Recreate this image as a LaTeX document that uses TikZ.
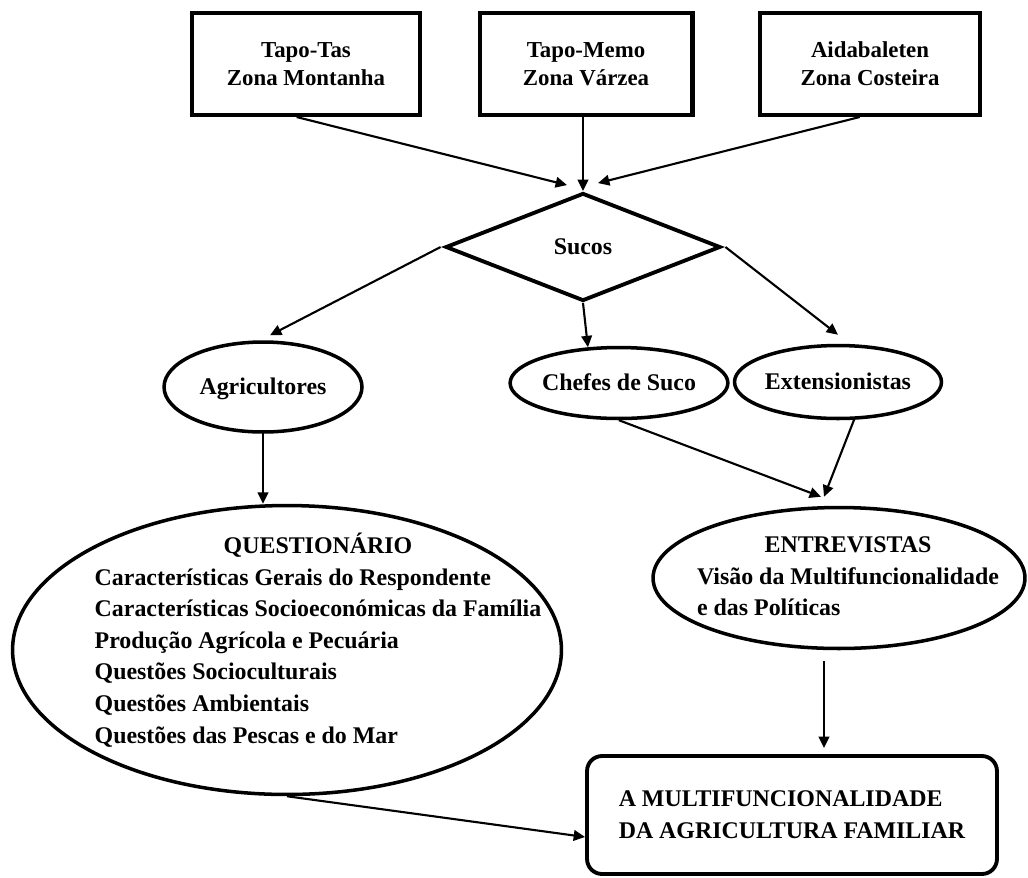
\documentclass[tikz,border=0pt]{standalone}
\usepackage{fontspec}
\setmainfont{Liberation Serif}
\usetikzlibrary{shapes.geometric,arrows.meta}

\begin{document}
\begin{tikzpicture}[x=0.02cm, y=-0.02cm,
  every node/.style={font=\fontsize{13.6}{18}\selectfont\bfseries},
  zonebox/.style={draw, line width=2.3pt, align=center, minimum height=2.04cm,
    font=\fontsize{13}{16}\selectfont\bfseries},
  grupo/.style={draw, ellipse, line width=2pt, inner sep=0pt},
  arr/.style={-{Triangle[length=6.5pt,width=6pt]}, line width=1.2pt}]

  \useasboundingbox (0,0) rectangle (1028,877);

  % zonas
  \node[zonebox, minimum width=4.56cm] (tas) at (306,64) {Tapo-Tas\\Zona Montanha};
  \node[zonebox, minimum width=4.26cm] (memo) at (586,64) {Tapo-Memo\\Zona Várzea};
  \node[zonebox, minimum width=4.4cm] (aida) at (870,64) {Aidabaleten\\Zona Costeira};

  \node[draw, diamond, line width=2.2pt, minimum width=5.5cm, minimum height=2.16cm,
    inner sep=0pt] (sucos) at (583,247) {Sucos};

  % grupos
  \node[grupo, text height=10pt, text depth=1pt, minimum width=3.96cm, minimum height=1.8cm] (agri) at (263,387) {Agricultores};
  \node[grupo, text height=10pt, text depth=1pt, minimum width=4.24cm, minimum height=1.42cm] (chefes) at (619,383) {Chefes de Suco};
  \node[grupo, text height=10pt, text depth=1pt, minimum width=4.14cm, minimum height=1.46cm] (ext) at (838,382) {Extensionistas};

  % instrumentos
  \node[grupo, minimum width=10.98cm, minimum height=5.78cm] (quest) at (287,650) {};
  \node (questtexto) at (318,642) {\begin{tabular}{@{}l@{}}
    \multicolumn{1}{@{}c@{}}{QUESTIONÁRIO}\\
    Características Gerais do Respondente\\
    Características Socioeconómicas da Família\\
    Produção Agrícola e Pecuária\\
    Questões Socioculturais\\
    Questões Ambientais\\
    Questões das Pescas e do Mar
  \end{tabular}};
  \node[grupo, minimum width=7.44cm, minimum height=2.82cm] (entrev) at (839,578) {};
  \node (entrevtexto) at (848,578) {\begin{tabular}{@{}l@{}}
    \multicolumn{1}{@{}c@{}}{ENTREVISTAS}\\
    Visão da Multifuncionalidade\\
    e das Políticas
  \end{tabular}};

  \node[draw, rounded corners=0.3cm, line width=2.2pt, minimum width=8.2cm, minimum height=2.36cm,
    align=left] (final) at (792,815) {A MULTIFUNCIONALIDADE\\DA AGRICULTURA FAMILIAR};

  \draw[arr] (tas.260) -- ([xshift=-0.32cm, yshift=0.12cm]sucos.north);
  \draw[arr] (sucos.north |- memo.south) -- (sucos.north);
  \draw[arr] (aida.259) -- ([xshift=0.3cm, yshift=0.16cm]sucos.north);
  \draw[arr] ([xshift=-0.06cm]sucos.west) -- ([xshift=0.14cm, yshift=0.1cm]agri.north);
  \draw[arr] (sucos.south) -- (chefes.131);
  \draw[arr] ([xshift=0.06cm]sucos.east) -- ([yshift=0.18cm]ext.north);
  \draw[arr] (agri.south) -- (agri.south |- quest.north);
  \draw[arr] (chefes.south) -- ([xshift=-0.36cm, yshift=0.18cm]entrev.north);
  \draw[arr] (ext.293) -- ([xshift=-0.3cm, yshift=0.18cm]entrev.north);
  \draw[arr, shorten <=0.22cm, shorten >=0.12cm] ([xshift=-0.3cm]entrev.south)
    -- ([xshift=-0.3cm]entrev.south |- final.north);
  \draw[arr] (quest.south) -- ([yshift=-0.44cm]final.west);
\end{tikzpicture}
\end{document}
